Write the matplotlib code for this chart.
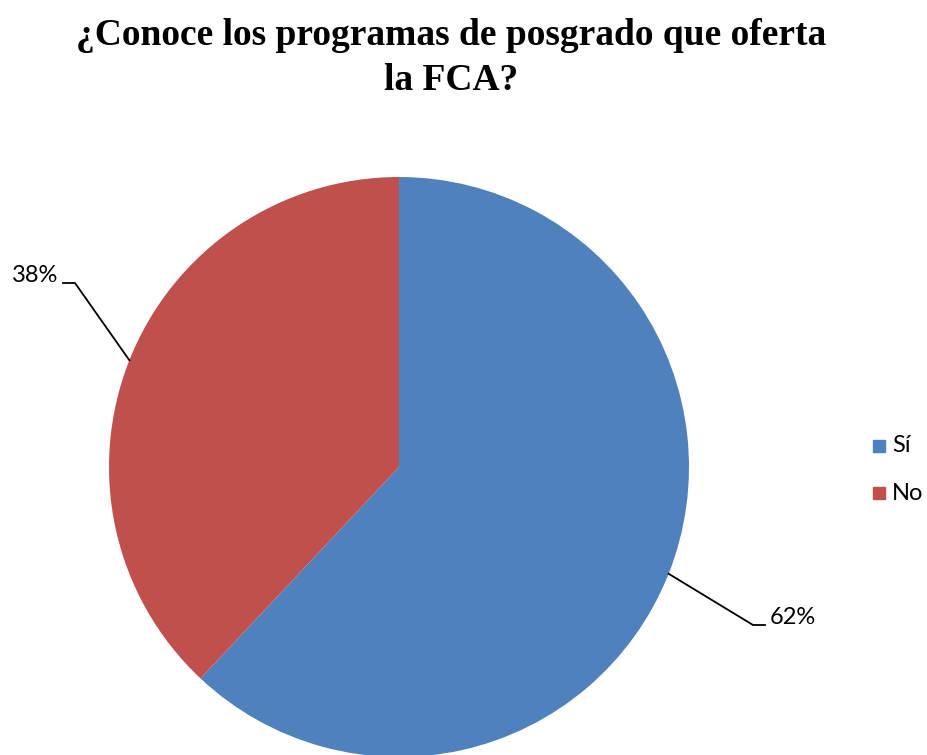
import numpy as np
import matplotlib.pyplot as plt

# datos
categorias = ['Sí', 'No']
valores = [62, 38]
colores = ['#4F81BD', '#C0504D']
etiquetas = ['62%', '38%']

W, H = 927, 755
fig = plt.figure(figsize=(W / 100, H / 100), dpi=100)
ax = fig.add_axes([0, 0, 1, 1])

cx, cy, r = 399, H - 467, 290
wedges, _ = ax.pie(valores, colors=colores, startangle=90, counterclock=False,
                   center=(cx, cy), radius=r, frame=True,
                   wedgeprops=dict(linewidth=0))
ax.set_xlim(0, W)
ax.set_ylim(0, H)
ax.set_aspect('equal')
ax.axis('off')

# lineas guia y etiquetas
codos = [(753, H - 625), (75, H - 283)]
fin = [(765, H - 625), (63, H - 283)]
for w, et, c, f in zip(wedges, etiquetas, codos, fin):
    ang = np.deg2rad((w.theta1 + w.theta2) / 2)
    px, py = cx + r * np.cos(ang), cy + r * np.sin(ang)
    ax.plot([px, c[0], f[0]], [py, c[1], f[1]], color='black', lw=1.3,
            solid_joinstyle='miter')
    if f[0] > c[0]:
        ax.text(f[0] + 5, f[1] + 7, et, ha='left', va='center', fontsize=17,
                family='Lato')
    else:
        ax.text(f[0] - 5, f[1] + 7, et, ha='right', va='center', fontsize=17,
                family='Lato')

# leyenda
leg_y = [H - 446, H - 493]
for cat, col, y in zip(categorias, colores, leg_y):
    ax.add_patch(plt.Rectangle((873, y - 6), 12, 12, color=col))
    ax.text(892, y, cat, va='center', ha='left', fontsize=17, family='Lato')

fig.text(451 / W, 1 - 18 / H, '¿Conoce los programas de posgrado que oferta\nla FCA?',
         ha='center', va='top', fontsize=27, fontweight='bold',
         family='Liberation Serif', linespacing=1.38)

fig.savefig('out.png', dpi=100)
